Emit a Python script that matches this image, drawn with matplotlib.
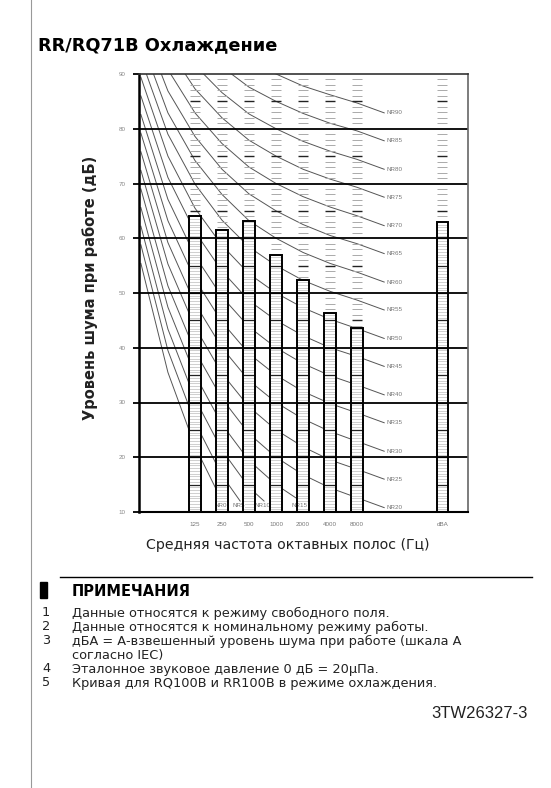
import numpy as np
import matplotlib
matplotlib.use("Agg")
import matplotlib.pyplot as plt

plt.rcParams['font.family'] = ['Liberation Sans', 'DejaVu Sans']
WIDE = ['DejaVu Sans']
NARROW = ['Liberation Sans Narrow', 'Liberation Sans']

# octave bands with measured levels
bands = ['125', '250', '500', '1000', '2000', '4000', '8000']
levels = [64.0, 61.5, 63.2, 57.0, 52.4, 46.4, 43.6]
dba_label = 'dBA'
dba_level = 63.0

# NR curve table, bands 31.5 ... 8000 Hz
nr_bands = ['31.5', '63', '125', '250', '500', '1000', '2000', '4000', '8000']
nr_table = {
    0:  [55.4, 35.5, 22.0, 12.0, 4.8, 0.0, -3.5, -6.1, -8.0],
    5:  [58.8, 39.5, 26.4, 16.7, 9.7, 5.0, 1.6, -1.0, -2.9],
    10: [62.2, 43.4, 30.7, 21.3, 14.5, 10.0, 6.7, 4.2, 2.3],
    15: [65.6, 47.4, 35.1, 26.0, 19.4, 15.0, 11.7, 9.3, 7.5],
    20: [69.0, 51.3, 39.4, 30.7, 24.3, 20.0, 16.8, 14.4, 12.6],
    25: [72.4, 55.3, 43.8, 35.3, 29.2, 25.0, 21.9, 19.5, 17.8],
    30: [75.8, 59.2, 48.1, 40.0, 34.0, 30.0, 27.0, 24.7, 22.9],
    35: [79.2, 63.2, 52.5, 44.7, 38.9, 35.0, 32.0, 29.8, 28.1],
    40: [82.6, 67.1, 56.8, 49.3, 43.8, 40.0, 37.1, 34.9, 33.2],
    45: [86.0, 71.1, 61.2, 54.0, 48.6, 45.0, 42.2, 40.0, 38.4],
    50: [89.4, 75.0, 65.5, 58.7, 53.5, 50.0, 47.3, 45.2, 43.5],
    55: [92.8, 79.0, 69.9, 63.3, 58.4, 55.0, 52.3, 50.3, 48.7],
    60: [96.2, 82.9, 74.2, 68.0, 63.2, 60.0, 57.4, 55.4, 53.8],
    65: [99.6, 86.9, 78.6, 72.6, 68.1, 65.0, 62.5, 60.5, 59.0],
    70: [103.0, 90.8, 82.9, 77.3, 73.0, 70.0, 67.6, 65.7, 64.1],
    75: [106.4, 94.8, 87.3, 82.0, 77.9, 75.0, 72.6, 70.8, 69.3],
    80: [109.8, 98.7, 91.6, 86.6, 82.7, 80.0, 77.7, 75.9, 74.4],
    85: [113.2, 102.7, 96.0, 91.3, 87.6, 85.0, 82.8, 81.0, 79.6],
    90: [116.6, 106.6, 100.3, 96.0, 92.5, 90.0, 87.8, 86.2, 84.7],
}

notes = [
    ('1', 'Данные относятся к режиму свободного поля.'),
    ('2', 'Данные относятся к номинальному режиму работы.'),
    ('3', 'дБА = А-взвешенный уровень шума при работе (шкала А'),
    ('', 'согласно IEC)'),
    ('4', 'Эталонное звуковое давление 0 дБ = 20µПа.'),
    ('5', 'Кривая для RQ100B и RR100B в режиме охлаждения.'),
]

W, H = 551, 788
fig = plt.figure(figsize=(W / 100, H / 100), dpi=100)


def fx(px):
    return px / W


def fy(py):
    return 1 - py / H


ax = fig.add_axes([fx(139), fy(512), fx(468 - 139), (512 - 74) / H])

nr_x = np.arange(len(nr_bands))
bar_x = np.array([nr_bands.index(b) for b in bands], dtype=float)
dba_x = 11.15
ymin, ymax = 10, 90

# NR curves
label_dx = 1.0
for nr, vals in nr_table.items():
    vals = np.array(vals)
    if vals[-1] > 12:
        xs = np.append(nr_x, nr_x[-1] + label_dx)
        ys = np.append(vals, vals[-1] - 1.8)
        ax.plot(xs, ys, color='#555555', lw=0.7, zorder=2)
        ax.text(xs[-1] + 0.08, ys[-1], f'NR{nr}', fontsize=4.5, color='#777777',
                va='center', ha='left')
    else:
        i = np.argmax(vals < 12)
        xc = nr_x[i - 1] + (vals[i - 1] - 12) / (vals[i - 1] - vals[i])
        xs = np.append(nr_x[:i], xc)
        ys = np.append(vals[:i], 12)
        ax.plot(xs, ys, color='#555555', lw=0.7, zorder=2)
        ax.text(xc - 0.05, 11.1, f'NR{nr}', fontsize=4.5, color='#777777',
                va='center', ha='center', zorder=5,
                bbox=dict(facecolor='white', edgecolor='none', pad=0.3))

# columns: scale marks and bars
col_x = np.append(bar_x, dba_x)
col_v = levels + [dba_level]
half = 0.18
bw = 0.42
for x, v in zip(col_x, col_v):
    ax.bar(x, v - ymin, bottom=ymin, width=bw, color='white', edgecolor='none', zorder=3)
    for d in range(ymin + 1, ymax):
        if d % 10 == 0 or d <= v:
            continue
        dark = d % 5 == 0
        ax.hlines(d, x - half, x + half, color='#222222' if dark else '#aaaaaa',
                  lw=1.0 if dark else 0.7, zorder=3)
    for d in np.arange(ymin + 0.5, v, 0.5):
        dark = d % 5 == 0
        ax.hlines(d, x - bw / 2, x + bw / 2, color='#222222' if dark else '#b5b5b5',
                  lw=0.9 if dark else 0.45, zorder=4)
    ax.bar(x, v - ymin, bottom=ymin, width=bw, fill=False, edgecolor='black',
           lw=1.4, zorder=5)

for g in range(20, 90, 10):
    ax.axhline(g, color='black', lw=1.3, zorder=6)

ax.set_xlim(-0.07, 12.1)
ax.set_ylim(ymin, ymax)
ax.set_yticks(range(10, 91, 10))
ax.set_yticklabels([str(t) for t in range(10, 91, 10)], fontsize=4.5, color='#888888')
ax.tick_params(axis='y', length=4.5, width=1.3, color='black', pad=5)
ax.set_xticks(list(col_x))
ax.set_xticklabels(bands + [dba_label], fontsize=4.5, color='#777777')
ax.tick_params(axis='x', length=0, pad=7)

ax.spines['left'].set_linewidth(1.8)
ax.spines['bottom'].set_linewidth(1.5)
ax.spines['top'].set_linewidth(1.2)
ax.spines['top'].set_color('#333333')
ax.spines['right'].set_linewidth(1.2)
ax.spines['right'].set_color('#666666')
for s in ax.spines.values():
    s.set_zorder(7)

ax.set_ylabel('Уровень шума при работе (дБ)', fontsize=10.5, weight='bold',
              color='#222222', family=WIDE)
ax.yaxis.set_label_coords(fx(90 - 139) / fx(468 - 139), (512 - 288) / (512 - 74))
ax.set_xlabel('Средняя частота октавных полос (Гц)', fontsize=10.2, color='#222222',
              family=WIDE)
ax.xaxis.set_label_coords((288 - 139) / (468 - 139), -(545 - 512) / (512 - 74))
ax.xaxis.label.set_va('center')
ax.yaxis.label.set_va('center')

# title
fig.text(fx(38), fy(45), 'RR/RQ71B Охлаждение', fontsize=12.8, weight='bold',
         va='center', family=WIDE)

# notes block
fig.add_artist(plt.Line2D([fx(60), fx(532)], [fy(577), fy(577)], color='black', lw=1.0))
fig.add_artist(plt.Rectangle((fx(40), fy(598)), fx(7), 16 / H, color='black'))
fig.text(fx(72), fy(591), 'ПРИМЕЧАНИЯ', fontsize=10.5, weight='bold', va='center',
         family=WIDE)
note_y = [613, 627, 641, 655, 669, 683]
for (num, txt), y in zip(notes, note_y):
    fig.text(fx(42), fy(y), num, fontsize=9.3, va='center', color='#222222', family=WIDE)
    fig.text(fx(72), fy(y), txt, fontsize=9.3, va='center', color='#222222', family=WIDE)
fig.text(fx(528), fy(713), '3TW26327-3', fontsize=12, va='center', ha='right',
         color='#222222', family=NARROW)

# page frame line at the left
fig.add_artist(plt.Line2D([fx(31), fx(31)], [0, 1], color='#999999', lw=0.8))

fig.savefig('out.png', dpi=100)
